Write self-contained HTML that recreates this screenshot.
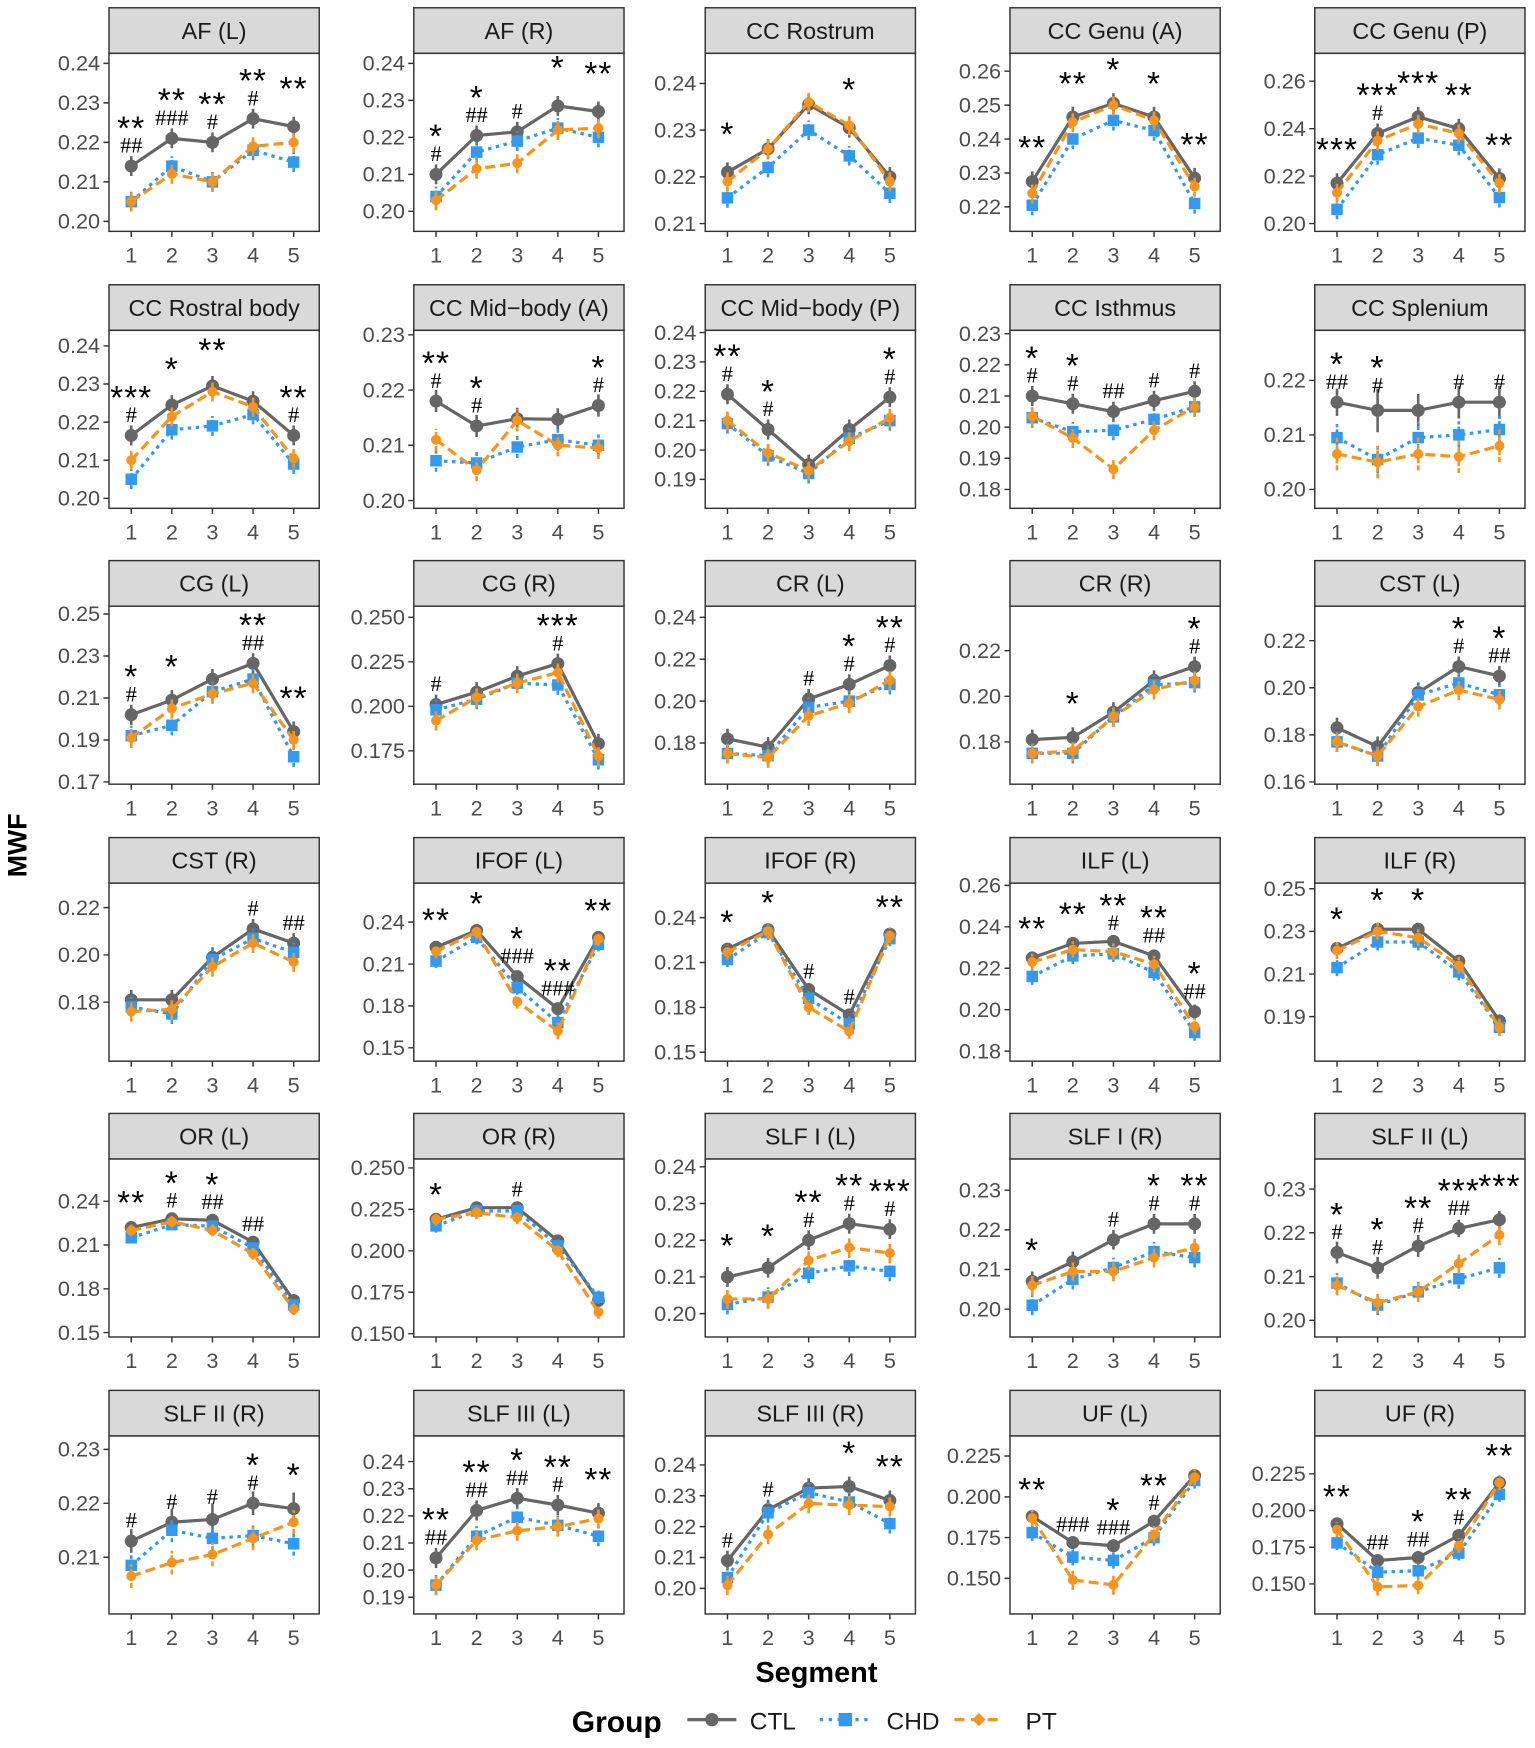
<!DOCTYPE html>
<html><head><meta charset="utf-8"><style>
html,body{margin:0;padding:0;background:#fff}
svg{display:block}
text{font-family:"Liberation Sans",Arial,sans-serif}
.st{fill:#d9d9d9;stroke:#333;stroke-width:1.3}
.pn{fill:#fff;stroke:#333;stroke-width:1.3}
.sx{font-size:21px;text-anchor:middle;fill:#1a1a1a}
.tk{stroke:#333;stroke-width:1.3;fill:none}
.yl{font-size:19.5px;text-anchor:end;fill:#4d4d4d}
.xl{font-size:19.5px;text-anchor:middle;fill:#4d4d4d}
.l1,.l2,.l3,.e1,.e2,.e3,.p1,.p2,.p3{fill:none;vector-effect:non-scaling-stroke}
.l1{stroke:#666;stroke-width:3.2}
.l2{stroke:#3399ee;stroke-width:3.2;stroke-dasharray:3.5 4.5}
.l3{stroke:#f7941d;stroke-width:3.2;stroke-dasharray:10 5}
.e1{stroke:#666;stroke-width:2.6}
.e2{stroke:#3399ee;stroke-width:2.6;stroke-dasharray:4 2}
.e3{stroke:#f7941d;stroke-width:2.6;stroke-dasharray:5 2}
.p1{stroke:#666;stroke-width:13;stroke-linecap:round}
.p2{stroke:#3399ee;stroke-width:11.5;stroke-linecap:square}
.p3{stroke:#f7941d;stroke-width:10;stroke-linecap:round}
.s{font-size:30px;text-anchor:middle;fill:#000;letter-spacing:1px}
.h{font-size:20px;text-anchor:middle;fill:#000;font-family:"Liberation Serif",serif}
</style></head><body>
<svg width="1535" height="1748" viewBox="0 0 1380 1571.5" preserveAspectRatio="none" xmlns="http://www.w3.org/2000/svg">

<!-- P1 AF (L) -->
<g transform="translate(98 0)">
<rect class="st" x="0" y="7" width="189" height="41"/><text class="sx" x="94.5" y="35">AF (L)</text>
<rect class="pn" x="0" y="48" width="189" height="160"/>
<path class="tk" d="M-5 57h5M-5 92.5h5M-5 128h5M-5 163.5h5M-5 199h5M20 208v5M56.5 208v5M93 208v5M129.5 208v5M166 208v5"/>
<text class="yl" x="-8" y="63.5">0.24</text><text class="yl" x="-8" y="99">0.23</text><text class="yl" x="-8" y="134.5">0.22</text><text class="yl" x="-8" y="170">0.21</text><text class="yl" x="-8" y="205.5">0.20</text>
<text class="xl" y="236"><tspan x="20">1</tspan><tspan x="56.5">2</tspan><tspan x="93">3</tspan><tspan x="129.5">4</tspan><tspan x="166">5</tspan></text>
<g transform="translate(0 199) scale(1 -3.55) translate(0 -200)">
<path class="l1" d="M20 214L56.5 221L93 220L129.5 226L166 224"/>
<path class="e1" d="M20 214m0-2.5v5M56.5 221m0-2.5v5M93 220m0-2.5v5M129.5 226m0-2.5v5M166 224m0-2.5v5"/>
<path class="p1" d="M20 214h0M56.5 221h0M93 220h0M129.5 226h0M166 224h0"/>
<path class="l2" d="M20 205L56.5 214L93 210L129.5 218L166 215"/>
<path class="e2" d="M20 205m0-2.5v5M56.5 214m0-2.5v5M93 210m0-2.5v5M129.5 218m0-2.5v5M166 215m0-2.5v5"/>
<path class="p2" d="M20 205h0M56.5 214h0M93 210h0M129.5 218h0M166 215h0"/>
<path class="l3" d="M20 205L56.5 212L93 210L129.5 219L166 220"/>
<path class="e3" d="M20 205m0-2.5v5M56.5 212m0-2.5v5M93 210m0-2.5v5M129.5 219m0-2.5v5M166 220m0-2.5v5"/>
<path class="p3" d="M20 205h0M56.5 212h0M93 210h0M129.5 219h0M166 220h0"/>
<g transform="translate(20 214) scale(1 -.2817)"><text class="h" y="-12">##</text><text class="s" y="-24">**</text></g>
<g transform="translate(56.5 221) scale(1 -.2817)"><text class="h" y="-12">###</text><text class="s" y="-24">**</text></g>
<g transform="translate(93 220) scale(1 -.2817)"><text class="h" y="-12">#</text><text class="s" y="-24">**</text></g>
<g transform="translate(129.5 226) scale(1 -.2817)"><text class="h" y="-12">#</text><text class="s" y="-24">**</text></g>
<g transform="translate(166 224) scale(1 -.2817)"><text class="s" y="-24">**</text></g>
</g></g>

<!-- P2 AF (R) -->
<g transform="translate(372 0)">
<rect class="st" x="0" y="7" width="189" height="41"/><text class="sx" x="94.5" y="35">AF (R)</text>
<rect class="pn" x="0" y="48" width="189" height="160"/>
<path class="tk" d="M-5 57h5M-5 90.25h5M-5 123.5h5M-5 156.75h5M-5 190h5M20 208v5M56.5 208v5M93 208v5M129.5 208v5M166 208v5"/>
<text class="yl" x="-8" y="63.5">0.24</text><text class="yl" x="-8" y="96.75">0.23</text><text class="yl" x="-8" y="130">0.22</text><text class="yl" x="-8" y="163.25">0.21</text><text class="yl" x="-8" y="196.5">0.20</text>
<text class="xl" y="236"><tspan x="20">1</tspan><tspan x="56.5">2</tspan><tspan x="93">3</tspan><tspan x="129.5">4</tspan><tspan x="166">5</tspan></text>
<g transform="translate(0 190) scale(1 -3.325) translate(0 -200)">
<path class="l1" d="M20 210L56.5 220.5L93 221.5L129.5 228.5L166 227"/>
<path class="e1" d="M20 210m0-2.7v5.4M56.5 220.5m0-2.7v5.4M93 221.5m0-2.7v5.4M129.5 228.5m0-2.7v5.4M166 227m0-2.7v5.4"/>
<path class="p1" d="M20 210h0M56.5 220.5h0M93 221.5h0M129.5 228.5h0M166 227h0"/>
<path class="l2" d="M20 204L56.5 216L93 219L129.5 222.5L166 220"/>
<path class="e2" d="M20 204m0-2.7v5.4M56.5 216m0-2.7v5.4M93 219m0-2.7v5.4M129.5 222.5m0-2.7v5.4M166 220m0-2.7v5.4"/>
<path class="p2" d="M20 204h0M56.5 216h0M93 219h0M129.5 222.5h0M166 220h0"/>
<path class="l3" d="M20 203L56.5 211.5L93 213L129.5 222L166 222.5"/>
<path class="e3" d="M20 203m0-2.7v5.4M56.5 211.5m0-2.7v5.4M93 213m0-2.7v5.4M129.5 222m0-2.7v5.4M166 222.5m0-2.7v5.4"/>
<path class="p3" d="M20 203h0M56.5 211.5h0M93 213h0M129.5 222h0M166 222.5h0"/>
<g transform="translate(20 210) scale(1 -.3008)"><text class="h" y="-12">#</text><text class="s" y="-24">*</text></g>
<g transform="translate(56.5 220.5) scale(1 -.3008)"><text class="h" y="-12">##</text><text class="s" y="-24">*</text></g>
<g transform="translate(93 221.5) scale(1 -.3008)"><text class="h" y="-12">#</text></g>
<g transform="translate(129.5 228.5) scale(1 -.3008)"><text class="s" y="-24">*</text></g>
<g transform="translate(166 227) scale(1 -.3008)"><text class="s" y="-24">**</text></g>
</g></g>

<!-- P3 CC Rostrum -->
<g transform="translate(634 0)">
<rect class="st" x="0" y="7" width="189" height="41"/><text class="sx" x="94.5" y="35">CC Rostrum</text>
<rect class="pn" x="0" y="48" width="189" height="160"/>
<path class="tk" d="M-5 75h5M-5 117h5M-5 159h5M-5 201h5M20 208v5M56.5 208v5M93 208v5M129.5 208v5M166 208v5"/>
<text class="yl" x="-8" y="81.5">0.24</text><text class="yl" x="-8" y="123.5">0.23</text><text class="yl" x="-8" y="165.5">0.22</text><text class="yl" x="-8" y="207.5">0.21</text>
<text class="xl" y="236"><tspan x="20">1</tspan><tspan x="56.5">2</tspan><tspan x="93">3</tspan><tspan x="129.5">4</tspan><tspan x="166">5</tspan></text>
<g transform="translate(0 201) scale(1 -4.2) translate(0 -210)">
<path class="l1" d="M20 221L56.5 226L93 235.5L129.5 230.5L166 220"/>
<path class="e1" d="M20 221m0-2.1v4.2M56.5 226m0-2.1v4.2M93 235.5m0-2.1v4.2M129.5 230.5m0-2.1v4.2M166 220m0-2.1v4.2"/>
<path class="p1" d="M20 221h0M56.5 226h0M93 235.5h0M129.5 230.5h0M166 220h0"/>
<path class="l2" d="M20 215.5L56.5 222L93 230L129.5 224.5L166 216.5"/>
<path class="e2" d="M20 215.5m0-2.1v4.2M56.5 222m0-2.1v4.2M93 230m0-2.1v4.2M129.5 224.5m0-2.1v4.2M166 216.5m0-2.1v4.2"/>
<path class="p2" d="M20 215.5h0M56.5 222h0M93 230h0M129.5 224.5h0M166 216.5h0"/>
<path class="l3" d="M20 219L56.5 226L93 236L129.5 231L166 219"/>
<path class="e3" d="M20 219m0-2.1v4.2M56.5 226m0-2.1v4.2M93 236m0-2.1v4.2M129.5 231m0-2.1v4.2M166 219m0-2.1v4.2"/>
<path class="p3" d="M20 219h0M56.5 226h0M93 236h0M129.5 231h0M166 219h0"/>
<g transform="translate(20 221) scale(1 -.2381)"><text class="s" y="-24">*</text></g>
<g transform="translate(129.5 230.5) scale(1 -.2381)"><text class="s" y="-24">*</text></g>
</g></g>

<!-- P4 CC Genu (A) -->
<g transform="translate(908 0)">
<rect class="st" x="0" y="7" width="189" height="41"/><text class="sx" x="94.5" y="35">CC Genu (A)</text>
<rect class="pn" x="0" y="48" width="189" height="160"/>
<path class="tk" d="M-5 64h5M-5 94.5h5M-5 125h5M-5 155.5h5M-5 186h5M20 208v5M56.5 208v5M93 208v5M129.5 208v5M166 208v5"/>
<text class="yl" x="-8" y="70.5">0.26</text><text class="yl" x="-8" y="101">0.25</text><text class="yl" x="-8" y="131.5">0.24</text><text class="yl" x="-8" y="162">0.23</text><text class="yl" x="-8" y="192.5">0.22</text>
<text class="xl" y="236"><tspan x="20">1</tspan><tspan x="56.5">2</tspan><tspan x="93">3</tspan><tspan x="129.5">4</tspan><tspan x="166">5</tspan></text>
<g transform="translate(0 186) scale(1 -3.05) translate(0 -220)">
<path class="l1" d="M20 227.5L56.5 246.5L93 250.5L129.5 246.5L166 228.5"/>
<path class="e1" d="M20 227.5m0-3v6M56.5 246.5m0-3v6M93 250.5m0-3v6M129.5 246.5m0-3v6M166 228.5m0-3v6"/>
<path class="p1" d="M20 227.5h0M56.5 246.5h0M93 250.5h0M129.5 246.5h0M166 228.5h0"/>
<path class="l2" d="M20 220.5L56.5 240L93 245.5L129.5 242.5L166 221"/>
<path class="e2" d="M20 220.5m0-3v6M56.5 240m0-3v6M93 245.5m0-3v6M129.5 242.5m0-3v6M166 221m0-3v6"/>
<path class="p2" d="M20 220.5h0M56.5 240h0M93 245.5h0M129.5 242.5h0M166 221h0"/>
<path class="l3" d="M20 224L56.5 245L93 250L129.5 245.5L166 226"/>
<path class="e3" d="M20 224m0-3v6M56.5 245m0-3v6M93 250m0-3v6M129.5 245.5m0-3v6M166 226m0-3v6"/>
<path class="p3" d="M20 224h0M56.5 245h0M93 250h0M129.5 245.5h0M166 226h0"/>
<g transform="translate(20 227.5) scale(1 -.3279)"><text class="s" y="-20">**</text></g>
<g transform="translate(56.5 246.5) scale(1 -.3279)"><text class="s" y="-20">**</text></g>
<g transform="translate(93 250.5) scale(1 -.3279)"><text class="s" y="-20">*</text></g>
<g transform="translate(129.5 246.5) scale(1 -.3279)"><text class="s" y="-20">*</text></g>
<g transform="translate(166 228.5) scale(1 -.3279)"><text class="s" y="-20">**</text></g>
</g></g>

<!-- P5 CC Genu (P) -->
<g transform="translate(1182 0)">
<rect class="st" x="0" y="7" width="189" height="41"/><text class="sx" x="94.5" y="35">CC Genu (P)</text>
<rect class="pn" x="0" y="48" width="189" height="160"/>
<path class="tk" d="M-5 73h5M-5 115.7h5M-5 158.3h5M-5 201h5M20 208v5M56.5 208v5M93 208v5M129.5 208v5M166 208v5"/>
<text class="yl" x="-8" y="79.5">0.26</text><text class="yl" x="-8" y="122.2">0.24</text><text class="yl" x="-8" y="164.8">0.22</text><text class="yl" x="-8" y="207.5">0.20</text>
<text class="xl" y="236"><tspan x="20">1</tspan><tspan x="56.5">2</tspan><tspan x="93">3</tspan><tspan x="129.5">4</tspan><tspan x="166">5</tspan></text>
<g transform="translate(0 201) scale(1 -2.133) translate(0 -200)">
<path class="l1" d="M20 217L56.5 238L93 245L129.5 240L166 219"/>
<path class="e1" d="M20 217m0-4.2v8.4M56.5 238m0-4.2v8.4M93 245m0-4.2v8.4M129.5 240m0-4.2v8.4M166 219m0-4.2v8.4"/>
<path class="p1" d="M20 217h0M56.5 238h0M93 245h0M129.5 240h0M166 219h0"/>
<path class="l2" d="M20 206L56.5 229L93 236L129.5 233L166 211"/>
<path class="e2" d="M20 206m0-4.2v8.4M56.5 229m0-4.2v8.4M93 236m0-4.2v8.4M129.5 233m0-4.2v8.4M166 211m0-4.2v8.4"/>
<path class="p2" d="M20 206h0M56.5 229h0M93 236h0M129.5 233h0M166 211h0"/>
<path class="l3" d="M20 213L56.5 235L93 242L129.5 238L166 217"/>
<path class="e3" d="M20 213m0-4.2v8.4M56.5 235m0-4.2v8.4M93 242m0-4.2v8.4M129.5 238m0-4.2v8.4M166 217m0-4.2v8.4"/>
<path class="p3" d="M20 213h0M56.5 235h0M93 242h0M129.5 238h0M166 217h0"/>
<g transform="translate(20 217) scale(1 -.4688)"><text class="s" y="-20">***</text></g>
<g transform="translate(56.5 238) scale(1 -.4688)"><text class="h" y="-12">#</text><text class="s" y="-24">***</text></g>
<g transform="translate(93 245) scale(1 -.4688)"><text class="s" y="-20">***</text></g>
<g transform="translate(129.5 240) scale(1 -.4688)"><text class="s" y="-20">**</text></g>
<g transform="translate(166 219) scale(1 -.4688)"><text class="s" y="-20">**</text></g>
</g></g>

<!-- P6 CC Rostral body -->
<g transform="translate(98 0)">
<rect class="st" x="0" y="256" width="189" height="41"/><text class="sx" x="94.5" y="284">CC Rostral body</text>
<rect class="pn" x="0" y="297" width="189" height="160"/>
<path class="tk" d="M-5 311h5M-5 345.25h5M-5 379.5h5M-5 413.75h5M-5 448h5M20 457v5M56.5 457v5M93 457v5M129.5 457v5M166 457v5"/>
<text class="yl" x="-8" y="317.5">0.24</text><text class="yl" x="-8" y="351.75">0.23</text><text class="yl" x="-8" y="386">0.22</text><text class="yl" x="-8" y="420.25">0.21</text><text class="yl" x="-8" y="454.5">0.20</text>
<text class="xl" y="485"><tspan x="20">1</tspan><tspan x="56.5">2</tspan><tspan x="93">3</tspan><tspan x="129.5">4</tspan><tspan x="166">5</tspan></text>
<g transform="translate(0 448) scale(1 -3.425) translate(0 -200)">
<path class="l1" d="M20 216.5L56.5 224.5L93 229.5L129.5 225.5L166 216.5"/>
<path class="e1" d="M20 216.5m0-2.6v5.2M56.5 224.5m0-2.6v5.2M93 229.5m0-2.6v5.2M129.5 225.5m0-2.6v5.2M166 216.5m0-2.6v5.2"/>
<path class="p1" d="M20 216.5h0M56.5 224.5h0M93 229.5h0M129.5 225.5h0M166 216.5h0"/>
<path class="l2" d="M20 205L56.5 218L93 219L129.5 222L166 209"/>
<path class="e2" d="M20 205m0-2.6v5.2M56.5 218m0-2.6v5.2M93 219m0-2.6v5.2M129.5 222m0-2.6v5.2M166 209m0-2.6v5.2"/>
<path class="p2" d="M20 205h0M56.5 218h0M93 219h0M129.5 222h0M166 209h0"/>
<path class="l3" d="M20 210L56.5 221.5L93 228L129.5 224L166 210.5"/>
<path class="e3" d="M20 210m0-2.6v5.2M56.5 221.5m0-2.6v5.2M93 228m0-2.6v5.2M129.5 224m0-2.6v5.2M166 210.5m0-2.6v5.2"/>
<path class="p3" d="M20 210h0M56.5 221.5h0M93 228h0M129.5 224h0M166 210.5h0"/>
<g transform="translate(20 216.5) scale(1 -.292)"><text class="h" y="-12">#</text><text class="s" y="-24">***</text></g>
<g transform="translate(56.5 224.5) scale(1 -.292)"><text class="s" y="-22">*</text></g>
<g transform="translate(93 229.5) scale(1 -.292)"><text class="s" y="-22">**</text></g>
<g transform="translate(166 216.5) scale(1 -.292)"><text class="h" y="-12">#</text><text class="s" y="-24">**</text></g>
</g></g>

<!-- P7 CC Mid-body (A) -->
<g transform="translate(372 0)">
<rect class="st" x="0" y="256" width="189" height="41"/><text class="sx" x="94.5" y="284">CC Mid−body (A)</text>
<rect class="pn" x="0" y="297" width="189" height="160"/>
<path class="tk" d="M-5 301h5M-5 350.7h5M-5 400.3h5M-5 450h5M20 457v5M56.5 457v5M93 457v5M129.5 457v5M166 457v5"/>
<text class="yl" x="-8" y="307.5">0.23</text><text class="yl" x="-8" y="357.2">0.22</text><text class="yl" x="-8" y="406.8">0.21</text><text class="yl" x="-8" y="456.5">0.20</text>
<text class="xl" y="485"><tspan x="20">1</tspan><tspan x="56.5">2</tspan><tspan x="93">3</tspan><tspan x="129.5">4</tspan><tspan x="166">5</tspan></text>
<g transform="translate(0 450) scale(1 -4.967) translate(0 -200)">
<path class="l1" d="M20 218L56.5 213.5L93 214.8L129.5 214.7L166 217.2"/>
<path class="e1" d="M20 218m0-2v4M56.5 213.5m0-2v4M93 214.8m0-2v4M129.5 214.7m0-2v4M166 217.2m0-2v4"/>
<path class="p1" d="M20 218h0M56.5 213.5h0M93 214.8h0M129.5 214.7h0M166 217.2h0"/>
<path class="l2" d="M20 207.2L56.5 206.8L93 209.7L129.5 211L166 210"/>
<path class="e2" d="M20 207.2m0-2v4M56.5 206.8m0-2v4M93 209.7m0-2v4M129.5 211m0-2v4M166 210m0-2v4"/>
<path class="p2" d="M20 207.2h0M56.5 206.8h0M93 209.7h0M129.5 211h0M166 210h0"/>
<path class="l3" d="M20 211L56.5 205.5L93 214.5L129.5 210L166 209.5"/>
<path class="e3" d="M20 211m0-2v4M56.5 205.5m0-2v4M93 214.5m0-2v4M129.5 210m0-2v4M166 209.5m0-2v4"/>
<path class="p3" d="M20 211h0M56.5 205.5h0M93 214.5h0M129.5 210h0M166 209.5h0"/>
<g transform="translate(20 218) scale(1 -.2013)"><text class="h" y="-12">#</text><text class="s" y="-24">**</text></g>
<g transform="translate(56.5 213.5) scale(1 -.2013)"><text class="h" y="-12">#</text><text class="s" y="-24">*</text></g>
<g transform="translate(166 217.2) scale(1 -.2013)"><text class="h" y="-12">#</text><text class="s" y="-24">*</text></g>
</g></g>

<!-- P8 CC Mid-body (P) -->
<g transform="translate(634 0)">
<rect class="st" x="0" y="256" width="189" height="41"/><text class="sx" x="94.5" y="284">CC Mid−body (P)</text>
<rect class="pn" x="0" y="297" width="189" height="160"/>
<path class="tk" d="M-5 299h5M-5 325.4h5M-5 351.8h5M-5 378.2h5M-5 404.6h5M-5 431h5M20 457v5M56.5 457v5M93 457v5M129.5 457v5M166 457v5"/>
<text class="yl" x="-8" y="305.5">0.24</text><text class="yl" x="-8" y="331.9">0.23</text><text class="yl" x="-8" y="358.3">0.22</text><text class="yl" x="-8" y="384.7">0.21</text><text class="yl" x="-8" y="411.1">0.20</text><text class="yl" x="-8" y="437.5">0.19</text>
<text class="xl" y="485"><tspan x="20">1</tspan><tspan x="56.5">2</tspan><tspan x="93">3</tspan><tspan x="129.5">4</tspan><tspan x="166">5</tspan></text>
<g transform="translate(0 431) scale(1 -2.64) translate(0 -190)">
<path class="l1" d="M20 219L56.5 207L93 195L129.5 207L166 218"/>
<path class="e1" d="M20 219m0-3.4v6.8M56.5 207m0-3.4v6.8M93 195m0-3.4v6.8M129.5 207m0-3.4v6.8M166 218m0-3.4v6.8"/>
<path class="p1" d="M20 219h0M56.5 207h0M93 195h0M129.5 207h0M166 218h0"/>
<path class="l2" d="M20 209L56.5 198L93 192L129.5 204L166 210"/>
<path class="e2" d="M20 209m0-3.4v6.8M56.5 198m0-3.4v6.8M93 192m0-3.4v6.8M129.5 204m0-3.4v6.8M166 210m0-3.4v6.8"/>
<path class="p2" d="M20 209h0M56.5 198h0M93 192h0M129.5 204h0M166 210h0"/>
<path class="l3" d="M20 210L56.5 199L93 193L129.5 203L166 211"/>
<path class="e3" d="M20 210m0-3.4v6.8M56.5 199m0-3.4v6.8M93 193m0-3.4v6.8M129.5 203m0-3.4v6.8M166 211m0-3.4v6.8"/>
<path class="p3" d="M20 210h0M56.5 199h0M93 193h0M129.5 203h0M166 211h0"/>
<g transform="translate(20 219) scale(1 -.3788)"><text class="h" y="-12">#</text><text class="s" y="-24">**</text></g>
<g transform="translate(56.5 207) scale(1 -.3788)"><text class="h" y="-12">#</text><text class="s" y="-24">*</text></g>
<g transform="translate(166 218) scale(1 -.3788)"><text class="h" y="-12">#</text><text class="s" y="-24">*</text></g>
</g></g>

<!-- P9 CC Isthmus -->
<g transform="translate(908 0)">
<rect class="st" x="0" y="256" width="189" height="41"/><text class="sx" x="94.5" y="284">CC Isthmus</text>
<rect class="pn" x="0" y="297" width="189" height="160"/>
<path class="tk" d="M-5 300h5M-5 328h5M-5 356h5M-5 384h5M-5 412h5M-5 440h5M20 457v5M56.5 457v5M93 457v5M129.5 457v5M166 457v5"/>
<text class="yl" x="-8" y="306.5">0.23</text><text class="yl" x="-8" y="334.5">0.22</text><text class="yl" x="-8" y="362.5">0.21</text><text class="yl" x="-8" y="390.5">0.20</text><text class="yl" x="-8" y="418.5">0.19</text><text class="yl" x="-8" y="446.5">0.18</text>
<text class="xl" y="485"><tspan x="20">1</tspan><tspan x="56.5">2</tspan><tspan x="93">3</tspan><tspan x="129.5">4</tspan><tspan x="166">5</tspan></text>
<g transform="translate(0 440) scale(1 -2.8) translate(0 -180)">
<path class="l1" d="M20 210L56.5 207.5L93 205L129.5 208.5L166 211.5"/>
<path class="e1" d="M20 210m0-3.2v6.4M56.5 207.5m0-3.2v6.4M93 205m0-3.2v6.4M129.5 208.5m0-3.2v6.4M166 211.5m0-3.2v6.4"/>
<path class="p1" d="M20 210h0M56.5 207.5h0M93 205h0M129.5 208.5h0M166 211.5h0"/>
<path class="l2" d="M20 203L56.5 198.5L93 199L129.5 202.5L166 206.5"/>
<path class="e2" d="M20 203m0-3.2v6.4M56.5 198.5m0-3.2v6.4M93 199m0-3.2v6.4M129.5 202.5m0-3.2v6.4M166 206.5m0-3.2v6.4"/>
<path class="p2" d="M20 203h0M56.5 198.5h0M93 199h0M129.5 202.5h0M166 206.5h0"/>
<path class="l3" d="M20 203.5L56.5 196.5L93 186.5L129.5 199L166 206.5"/>
<path class="e3" d="M20 203.5m0-3.2v6.4M56.5 196.5m0-3.2v6.4M93 186.5m0-3.2v6.4M129.5 199m0-3.2v6.4M166 206.5m0-3.2v6.4"/>
<path class="p3" d="M20 203.5h0M56.5 196.5h0M93 186.5h0M129.5 199h0M166 206.5h0"/>
<g transform="translate(20 210) scale(1 -.3571)"><text class="h" y="-12">#</text><text class="s" y="-24">*</text></g>
<g transform="translate(56.5 207.5) scale(1 -.3571)"><text class="h" y="-12">#</text><text class="s" y="-24">*</text></g>
<g transform="translate(93 205) scale(1 -.3571)"><text class="h" y="-12">##</text></g>
<g transform="translate(129.5 208.5) scale(1 -.3571)"><text class="h" y="-12">#</text></g>
<g transform="translate(166 211.5) scale(1 -.3571)"><text class="h" y="-12">#</text></g>
</g></g>

<!-- P10 CC Splenium -->
<g transform="translate(1182 0)">
<rect class="st" x="0" y="256" width="189" height="41"/><text class="sx" x="94.5" y="284">CC Splenium</text>
<rect class="pn" x="0" y="297" width="189" height="160"/>
<path class="tk" d="M-5 342h5M-5 391h5M-5 440h5M20 457v5M56.5 457v5M93 457v5M129.5 457v5M166 457v5"/>
<text class="yl" x="-8" y="348.5">0.22</text><text class="yl" x="-8" y="397.5">0.21</text><text class="yl" x="-8" y="446.5">0.20</text>
<text class="xl" y="485"><tspan x="20">1</tspan><tspan x="56.5">2</tspan><tspan x="93">3</tspan><tspan x="129.5">4</tspan><tspan x="166">5</tspan></text>
<g transform="translate(0 440) scale(1 -4.9) translate(0 -200)">
<path class="l1" d="M20 216L56.5 214.5L93 214.5L129.5 216L166 216"/>
<path class="e1" d="M20 216m0-2.5v5M56.5 214.5m0-4v8M93 214.5m0-3v6M129.5 216m0-3v6M166 216m0-3v6"/>
<path class="p1" d="M20 216h0M56.5 214.5h0M93 214.5h0M129.5 216h0M166 216h0"/>
<path class="l2" d="M20 209.5L56.5 205.5L93 209.5L129.5 210L166 211"/>
<path class="e2" d="M20 209.5m0-2.5v5M56.5 205.5m0-2.5v5M93 209.5m0-3v6M129.5 210m0-2.5v5M166 211m0-2.5v5"/>
<path class="p2" d="M20 209.5h0M56.5 205.5h0M93 209.5h0M129.5 210h0M166 211h0"/>
<path class="l3" d="M20 206.5L56.5 205L93 206.5L129.5 206L166 208"/>
<path class="e3" d="M20 206.5m0-3v6M56.5 205m0-3v6M93 206.5m0-3v6M129.5 206m0-3v6M166 208m0-3v6"/>
<path class="p3" d="M20 206.5h0M56.5 205h0M93 206.5h0M129.5 206h0M166 208h0"/>
<g transform="translate(20 216) scale(1 -.2041)"><text class="h" y="-12">##</text><text class="s" y="-24">*</text></g>
<g transform="translate(56.5 214.5) scale(1 -.2041)"><text class="h" y="-16">#</text><text class="s" y="-28">*</text></g>
<g transform="translate(129.5 216) scale(1 -.2041)"><text class="h" y="-12">#</text></g>
<g transform="translate(166 216) scale(1 -.2041)"><text class="h" y="-12">#</text></g>
</g></g>

<!-- P11 CG (L) -->
<g transform="translate(98 0)">
<rect class="st" x="0" y="504" width="189" height="41"/><text class="sx" x="94.5" y="532">CG (L)</text>
<rect class="pn" x="0" y="545" width="189" height="160"/>
<path class="tk" d="M-5 552h5M-5 589.75h5M-5 627.5h5M-5 665.25h5M-5 703h5M20 705v5M56.5 705v5M93 705v5M129.5 705v5M166 705v5"/>
<text class="yl" x="-8" y="558.5">0.25</text><text class="yl" x="-8" y="596.25">0.23</text><text class="yl" x="-8" y="634">0.21</text><text class="yl" x="-8" y="671.75">0.19</text><text class="yl" x="-8" y="709.5">0.17</text>
<text class="xl" y="733"><tspan x="20">1</tspan><tspan x="56.5">2</tspan><tspan x="93">3</tspan><tspan x="129.5">4</tspan><tspan x="166">5</tspan></text>
<g transform="translate(0 703) scale(1 -1.8875) translate(0 -170)">
<path class="l1" d="M20 202L56.5 209L93 219L129.5 226.5L166 194"/>
<path class="e1" d="M20 202m0-4.8v9.6M56.5 209m0-4.8v9.6M93 219m0-4.8v9.6M129.5 226.5m0-4.8v9.6M166 194m0-4.8v9.6"/>
<path class="p1" d="M20 202h0M56.5 209h0M93 219h0M129.5 226.5h0M166 194h0"/>
<path class="l2" d="M20 192L56.5 197L93 213L129.5 219L166 182"/>
<path class="e2" d="M20 192m0-4.8v9.6M56.5 197m0-4.8v9.6M93 213m0-4.8v9.6M129.5 219m0-4.8v9.6M166 182m0-4.8v9.6"/>
<path class="p2" d="M20 192h0M56.5 197h0M93 213h0M129.5 219h0M166 182h0"/>
<path class="l3" d="M20 191L56.5 205L93 212L129.5 217L166 190"/>
<path class="e3" d="M20 191m0-4.8v9.6M56.5 205m0-4.8v9.6M93 212m0-4.8v9.6M129.5 217m0-4.8v9.6M166 190m0-4.8v9.6"/>
<path class="p3" d="M20 191h0M56.5 205h0M93 212h0M129.5 217h0M166 190h0"/>
<g transform="translate(20 202) scale(1 -.5298)"><text class="h" y="-12">#</text><text class="s" y="-24">*</text></g>
<g transform="translate(56.5 209) scale(1 -.5298)"><text class="s" y="-20">*</text></g>
<g transform="translate(129.5 226.5) scale(1 -.5298)"><text class="h" y="-12">##</text><text class="s" y="-24">**</text></g>
<g transform="translate(166 194) scale(1 -.5298)"><text class="s" y="-20">**</text></g>
</g></g>

<!-- P12 CG (R) -->
<g transform="translate(372 0)">
<rect class="st" x="0" y="504" width="189" height="41"/><text class="sx" x="94.5" y="532">CG (R)</text>
<rect class="pn" x="0" y="545" width="189" height="160"/>
<path class="tk" d="M-5 555h5M-5 595h5M-5 635h5M-5 675h5M20 705v5M56.5 705v5M93 705v5M129.5 705v5M166 705v5"/>
<text class="yl" x="-8" y="561.5">0.250</text><text class="yl" x="-8" y="601.5">0.225</text><text class="yl" x="-8" y="641.5">0.200</text><text class="yl" x="-8" y="681.5">0.175</text>
<text class="xl" y="733"><tspan x="20">1</tspan><tspan x="56.5">2</tspan><tspan x="93">3</tspan><tspan x="129.5">4</tspan><tspan x="166">5</tspan></text>
<g transform="translate(0 675) scale(1 -1.6) translate(0 -175)">
<path class="l1" d="M20 201L56.5 208L93 217L129.5 224L166 179"/>
<path class="e1" d="M20 201m0-5.6v11.2M56.5 208m0-5.6v11.2M93 217m0-5.6v11.2M129.5 224m0-5.6v11.2M166 179m0-5.6v11.2"/>
<path class="p1" d="M20 201h0M56.5 208h0M93 217h0M129.5 224h0M166 179h0"/>
<path class="l2" d="M20 198L56.5 204L93 213L129.5 212L166 170"/>
<path class="e2" d="M20 198m0-5.6v11.2M56.5 204m0-5.6v11.2M93 213m0-5.6v11.2M129.5 212m0-5.6v11.2M166 170m0-5.6v11.2"/>
<path class="p2" d="M20 198h0M56.5 204h0M93 213h0M129.5 212h0M166 170h0"/>
<path class="l3" d="M20 192L56.5 205L93 213L129.5 219L166 172"/>
<path class="e3" d="M20 192m0-5.6v11.2M56.5 205m0-5.6v11.2M93 213m0-5.6v11.2M129.5 219m0-5.6v11.2M166 172m0-5.6v11.2"/>
<path class="p3" d="M20 192h0M56.5 205h0M93 213h0M129.5 219h0M166 172h0"/>
<g transform="translate(20 201) scale(1 -.625)"><text class="h" y="-12">#</text></g>
<g transform="translate(129.5 224) scale(1 -.625)"><text class="h" y="-12">#</text><text class="s" y="-24">***</text></g>
</g></g>

<!-- P13 CR (L) -->
<g transform="translate(634 0)">
<rect class="st" x="0" y="504" width="189" height="41"/><text class="sx" x="94.5" y="532">CR (L)</text>
<rect class="pn" x="0" y="545" width="189" height="160"/>
<path class="tk" d="M-5 555h5M-5 592.7h5M-5 630.3h5M-5 668h5M20 705v5M56.5 705v5M93 705v5M129.5 705v5M166 705v5"/>
<text class="yl" x="-8" y="561.5">0.24</text><text class="yl" x="-8" y="599.2">0.22</text><text class="yl" x="-8" y="636.8">0.20</text><text class="yl" x="-8" y="674.5">0.18</text>
<text class="xl" y="733"><tspan x="20">1</tspan><tspan x="56.5">2</tspan><tspan x="93">3</tspan><tspan x="129.5">4</tspan><tspan x="166">5</tspan></text>
<g transform="translate(0 668) scale(1 -1.883) translate(0 -180)">
<path class="l1" d="M20 182L56.5 178L93 201L129.5 208L166 217"/>
<path class="e1" d="M20 182m0-4.8v9.6M56.5 178m0-4.8v9.6M93 201m0-4.8v9.6M129.5 208m0-4.8v9.6M166 217m0-4.8v9.6"/>
<path class="p1" d="M20 182h0M56.5 178h0M93 201h0M129.5 208h0M166 217h0"/>
<path class="l2" d="M20 175L56.5 174L93 197L129.5 200L166 208"/>
<path class="e2" d="M20 175m0-4.8v9.6M56.5 174m0-4.8v9.6M93 197m0-4.8v9.6M129.5 200m0-4.8v9.6M166 208m0-4.8v9.6"/>
<path class="p2" d="M20 175h0M56.5 174h0M93 197h0M129.5 200h0M166 208h0"/>
<path class="l3" d="M20 175L56.5 173L93 193L129.5 199L166 210"/>
<path class="e3" d="M20 175m0-4.8v9.6M56.5 173m0-4.8v9.6M93 193m0-4.8v9.6M129.5 199m0-4.8v9.6M166 210m0-4.8v9.6"/>
<path class="p3" d="M20 175h0M56.5 173h0M93 193h0M129.5 199h0M166 210h0"/>
<g transform="translate(93 201) scale(1 -.531)"><text class="h" y="-12">#</text></g>
<g transform="translate(129.5 208) scale(1 -.531)"><text class="h" y="-12">#</text><text class="s" y="-24">*</text></g>
<g transform="translate(166 217) scale(1 -.531)"><text class="h" y="-12">#</text><text class="s" y="-24">**</text></g>
</g></g>

<!-- P14 CR (R) -->
<g transform="translate(908 0)">
<rect class="st" x="0" y="504" width="189" height="41"/><text class="sx" x="94.5" y="532">CR (R)</text>
<rect class="pn" x="0" y="545" width="189" height="160"/>
<path class="tk" d="M-5 585h5M-5 626h5M-5 667h5M20 705v5M56.5 705v5M93 705v5M129.5 705v5M166 705v5"/>
<text class="yl" x="-8" y="591.5">0.22</text><text class="yl" x="-8" y="632.5">0.20</text><text class="yl" x="-8" y="673.5">0.18</text>
<text class="xl" y="733"><tspan x="20">1</tspan><tspan x="56.5">2</tspan><tspan x="93">3</tspan><tspan x="129.5">4</tspan><tspan x="166">5</tspan></text>
<g transform="translate(0 667) scale(1 -2.05) translate(0 -180)">
<path class="l1" d="M20 181L56.5 182L93 193L129.5 207L166 213"/>
<path class="e1" d="M20 181m0-4.4v8.8M56.5 182m0-4.4v8.8M93 193m0-4.4v8.8M129.5 207m0-4.4v8.8M166 213m0-4.4v8.8"/>
<path class="p1" d="M20 181h0M56.5 182h0M93 193h0M129.5 207h0M166 213h0"/>
<path class="l2" d="M20 175L56.5 175L93 191L129.5 205L166 206"/>
<path class="e2" d="M20 175m0-4.4v8.8M56.5 175m0-4.4v8.8M93 191m0-4.4v8.8M129.5 205m0-4.4v8.8M166 206m0-4.4v8.8"/>
<path class="p2" d="M20 175h0M56.5 175h0M93 191h0M129.5 205h0M166 206h0"/>
<path class="l3" d="M20 175L56.5 176L93 191L129.5 203L166 207"/>
<path class="e3" d="M20 175m0-4.4v8.8M56.5 176m0-4.4v8.8M93 191m0-4.4v8.8M129.5 203m0-4.4v8.8M166 207m0-4.4v8.8"/>
<path class="p3" d="M20 175h0M56.5 176h0M93 191h0M129.5 203h0M166 207h0"/>
<g transform="translate(56.5 182) scale(1 -.4878)"><text class="s" y="-20">*</text></g>
<g transform="translate(166 213) scale(1 -.4878)"><text class="h" y="-12">#</text><text class="s" y="-24">*</text></g>
</g></g>

<!-- P15 CST (L) -->
<g transform="translate(1182 0)">
<rect class="st" x="0" y="504" width="189" height="41"/><text class="sx" x="94.5" y="532">CST (L)</text>
<rect class="pn" x="0" y="545" width="189" height="160"/>
<path class="tk" d="M-5 576h5M-5 618.3h5M-5 660.7h5M-5 703h5M20 705v5M56.5 705v5M93 705v5M129.5 705v5M166 705v5"/>
<text class="yl" x="-8" y="582.5">0.22</text><text class="yl" x="-8" y="624.8">0.20</text><text class="yl" x="-8" y="667.2">0.18</text><text class="yl" x="-8" y="709.5">0.16</text>
<text class="xl" y="733"><tspan x="20">1</tspan><tspan x="56.5">2</tspan><tspan x="93">3</tspan><tspan x="129.5">4</tspan><tspan x="166">5</tspan></text>
<g transform="translate(0 703) scale(1 -2.117) translate(0 -160)">
<path class="l1" d="M20 183L56.5 175L93 198L129.5 209L166 205"/>
<path class="e1" d="M20 183m0-4.3v8.6M56.5 175m0-4.3v8.6M93 198m0-4.3v8.6M129.5 209m0-4.3v8.6M166 205m0-4.3v8.6"/>
<path class="p1" d="M20 183h0M56.5 175h0M93 198h0M129.5 209h0M166 205h0"/>
<path class="l2" d="M20 177L56.5 171L93 197L129.5 202L166 197"/>
<path class="e2" d="M20 177m0-4.3v8.6M56.5 171m0-4.3v8.6M93 197m0-4.3v8.6M129.5 202m0-4.3v8.6M166 197m0-4.3v8.6"/>
<path class="p2" d="M20 177h0M56.5 171h0M93 197h0M129.5 202h0M166 197h0"/>
<path class="l3" d="M20 177L56.5 171L93 192L129.5 199L166 195"/>
<path class="e3" d="M20 177m0-4.3v8.6M56.5 171m0-4.3v8.6M93 192m0-4.3v8.6M129.5 199m0-4.3v8.6M166 195m0-4.3v8.6"/>
<path class="p3" d="M20 177h0M56.5 171h0M93 192h0M129.5 199h0M166 195h0"/>
<g transform="translate(129.5 209) scale(1 -.4724)"><text class="h" y="-12">#</text><text class="s" y="-24">*</text></g>
<g transform="translate(166 205) scale(1 -.4724)"><text class="h" y="-12">##</text><text class="s" y="-24">*</text></g>
</g></g>

<!-- P16 CST (R) -->
<g transform="translate(98 0)">
<rect class="st" x="0" y="753" width="189" height="41"/><text class="sx" x="94.5" y="781">CST (R)</text>
<rect class="pn" x="0" y="794" width="189" height="160"/>
<path class="tk" d="M-5 816h5M-5 858.5h5M-5 901h5M20 954v5M56.5 954v5M93 954v5M129.5 954v5M166 954v5"/>
<text class="yl" x="-8" y="822.5">0.22</text><text class="yl" x="-8" y="865">0.20</text><text class="yl" x="-8" y="907.5">0.18</text>
<text class="xl" y="982"><tspan x="20">1</tspan><tspan x="56.5">2</tspan><tspan x="93">3</tspan><tspan x="129.5">4</tspan><tspan x="166">5</tspan></text>
<g transform="translate(0 901) scale(1 -2.125) translate(0 -180)">
<path class="l1" d="M20 181L56.5 181L93 199L129.5 211L166 205"/>
<path class="e1" d="M20 181m0-4.2v8.4M56.5 181m0-4.2v8.4M93 199m0-4.2v8.4M129.5 211m0-4.2v8.4M166 205m0-4.2v8.4"/>
<path class="p1" d="M20 181h0M56.5 181h0M93 199h0M129.5 211h0M166 205h0"/>
<path class="l2" d="M20 178L56.5 175L93 198L129.5 207L166 201"/>
<path class="e2" d="M20 178m0-4.2v8.4M56.5 175m0-4.2v8.4M93 198m0-4.2v8.4M129.5 207m0-4.2v8.4M166 201m0-4.2v8.4"/>
<path class="p2" d="M20 178h0M56.5 175h0M93 198h0M129.5 207h0M166 201h0"/>
<path class="l3" d="M20 176L56.5 177L93 195L129.5 205L166 197"/>
<path class="e3" d="M20 176m0-4.2v8.4M56.5 177m0-4.2v8.4M93 195m0-4.2v8.4M129.5 205m0-4.2v8.4M166 197m0-4.2v8.4"/>
<path class="p3" d="M20 176h0M56.5 177h0M93 195h0M129.5 205h0M166 197h0"/>
<g transform="translate(129.5 211) scale(1 -.4706)"><text class="h" y="-12">#</text></g>
<g transform="translate(166 205) scale(1 -.4706)"><text class="h" y="-12">##</text></g>
</g></g>

<!-- P17 IFOF (L) -->
<g transform="translate(372 0)">
<rect class="st" x="0" y="753" width="189" height="41"/><text class="sx" x="94.5" y="781">IFOF (L)</text>
<rect class="pn" x="0" y="794" width="189" height="160"/>
<path class="tk" d="M-5 829h5M-5 866.7h5M-5 904.3h5M-5 942h5M20 954v5M56.5 954v5M93 954v5M129.5 954v5M166 954v5"/>
<text class="yl" x="-8" y="835.5">0.24</text><text class="yl" x="-8" y="873.2">0.21</text><text class="yl" x="-8" y="910.8">0.18</text><text class="yl" x="-8" y="948.5">0.15</text>
<text class="xl" y="982"><tspan x="20">1</tspan><tspan x="56.5">2</tspan><tspan x="93">3</tspan><tspan x="129.5">4</tspan><tspan x="166">5</tspan></text>
<g transform="translate(0 942) scale(1 -1.256) translate(0 -150)">
<path class="l1" d="M20 222L56.5 234L93 201L129.5 178L166 229"/>
<path class="e1" d="M20 222m0-4v8M56.5 234m0-4v8M93 201m0-4v8M129.5 178m0-4v8M166 229m0-4v8"/>
<path class="p1" d="M20 222h0M56.5 234h0M93 201h0M129.5 178h0M166 229h0"/>
<path class="l2" d="M20 212L56.5 229L93 193L129.5 168L166 224"/>
<path class="e2" d="M20 212m0-5v10M56.5 229m0-5v10M93 193m0-5v10M129.5 168m0-6v12M166 224m0-5v10"/>
<path class="p2" d="M20 212h0M56.5 229h0M93 193h0M129.5 168h0M166 224h0"/>
<path class="l3" d="M20 219L56.5 233L93 183L129.5 162L166 228"/>
<path class="e3" d="M20 219m0-5v10M56.5 233m0-5v10M93 183m0-5v10M129.5 162m0-6v12M166 228m0-5v10"/>
<path class="p3" d="M20 219h0M56.5 233h0M93 183h0M129.5 162h0M166 228h0"/>
<g transform="translate(20 222) scale(1 -.7962)"><text class="s" y="-14">**</text></g>
<g transform="translate(56.5 234) scale(1 -.7962)"><text class="s" y="-14">*</text></g>
<g transform="translate(93 201) scale(1 -.7962)"><text class="h" y="-12">###</text><text class="s" y="-24">*</text></g>
<g transform="translate(129.5 178) scale(1 -.7962)"><text class="h" y="-12">###</text><text class="s" y="-24">**</text></g>
<g transform="translate(166 229) scale(1 -.7962)"><text class="s" y="-14">**</text></g>
</g></g>

<!-- P18 IFOF (R) -->
<g transform="translate(634 0)">
<rect class="st" x="0" y="753" width="189" height="41"/><text class="sx" x="94.5" y="781">IFOF (R)</text>
<rect class="pn" x="0" y="794" width="189" height="160"/>
<path class="tk" d="M-5 825h5M-5 865.3h5M-5 905.7h5M-5 946h5M20 954v5M56.5 954v5M93 954v5M129.5 954v5M166 954v5"/>
<text class="yl" x="-8" y="831.5">0.24</text><text class="yl" x="-8" y="871.8">0.21</text><text class="yl" x="-8" y="912.2">0.18</text><text class="yl" x="-8" y="952.5">0.15</text>
<text class="xl" y="982"><tspan x="20">1</tspan><tspan x="56.5">2</tspan><tspan x="93">3</tspan><tspan x="129.5">4</tspan><tspan x="166">5</tspan></text>
<g transform="translate(0 946) scale(1 -1.344) translate(0 -150)">
<path class="l1" d="M20 219L56.5 232L93 192L129.5 175L166 229"/>
<path class="e1" d="M20 219m0-4v8M56.5 232m0-4v8M93 192m0-4v8M129.5 175m0-4v8M166 229m0-4v8"/>
<path class="p1" d="M20 219h0M56.5 232h0M93 192h0M129.5 175h0M166 229h0"/>
<path class="l2" d="M20 212L56.5 230L93 186L129.5 169L166 226"/>
<path class="e2" d="M20 212m0-5v10M56.5 230m0-5v10M93 186m0-5v10M129.5 169m0-5v10M166 226m0-5v10"/>
<path class="p2" d="M20 212h0M56.5 230h0M93 186h0M129.5 169h0M166 226h0"/>
<path class="l3" d="M20 217L56.5 231L93 180L129.5 164L166 228"/>
<path class="e3" d="M20 217m0-5v10M56.5 231m0-5v10M93 180m0-5v10M129.5 164m0-5v10M166 228m0-5v10"/>
<path class="p3" d="M20 217h0M56.5 231h0M93 180h0M129.5 164h0M166 228h0"/>
<g transform="translate(20 219) scale(1 -.744)"><text class="s" y="-14">*</text></g>
<g transform="translate(56.5 232) scale(1 -.744)"><text class="s" y="-14">*</text></g>
<g transform="translate(93 192) scale(1 -.744)"><text class="h" y="-10">#</text></g>
<g transform="translate(129.5 175) scale(1 -.744)"><text class="h" y="-10">#</text></g>
<g transform="translate(166 229) scale(1 -.744)"><text class="s" y="-14">**</text></g>
</g></g>

<!-- P19 ILF (L) -->
<g transform="translate(908 0)">
<rect class="st" x="0" y="753" width="189" height="41"/><text class="sx" x="94.5" y="781">ILF (L)</text>
<rect class="pn" x="0" y="794" width="189" height="160"/>
<path class="tk" d="M-5 796h5M-5 833.25h5M-5 870.5h5M-5 907.75h5M-5 945h5M20 954v5M56.5 954v5M93 954v5M129.5 954v5M166 954v5"/>
<text class="yl" x="-8" y="802.5">0.26</text><text class="yl" x="-8" y="839.75">0.24</text><text class="yl" x="-8" y="877">0.22</text><text class="yl" x="-8" y="914.25">0.20</text><text class="yl" x="-8" y="951.5">0.18</text>
<text class="xl" y="982"><tspan x="20">1</tspan><tspan x="56.5">2</tspan><tspan x="93">3</tspan><tspan x="129.5">4</tspan><tspan x="166">5</tspan></text>
<g transform="translate(0 945) scale(1 -1.8625) translate(0 -180)">
<path class="l1" d="M20 225L56.5 232L93 233L129.5 226L166 199"/>
<path class="e1" d="M20 225m0-3v6M56.5 232m0-3v6M93 233m0-3v6M129.5 226m0-3v6M166 199m0-3.5v7"/>
<path class="p1" d="M20 225h0M56.5 232h0M93 233h0M129.5 226h0M166 199h0"/>
<path class="l2" d="M20 216L56.5 226L93 227L129.5 218L166 189"/>
<path class="e2" d="M20 216m0-4v8M56.5 226m0-4v8M93 227m0-4v8M129.5 218m0-4v8M166 189m0-4v8"/>
<path class="p2" d="M20 216h0M56.5 226h0M93 227h0M129.5 218h0M166 189h0"/>
<path class="l3" d="M20 223L56.5 229L93 228L129.5 222L166 192"/>
<path class="e3" d="M20 223m0-4v8M56.5 229m0-4v8M93 228m0-4v8M129.5 222m0-4v8M166 192m0-4v8"/>
<path class="p3" d="M20 223h0M56.5 229h0M93 228h0M129.5 222h0M166 192h0"/>
<g transform="translate(20 225) scale(1 -.5369)"><text class="s" y="-16">**</text></g>
<g transform="translate(56.5 232) scale(1 -.5369)"><text class="s" y="-16">**</text></g>
<g transform="translate(93 233) scale(1 -.5369)"><text class="h" y="-10">#</text><text class="s" y="-22">**</text></g>
<g transform="translate(129.5 226) scale(1 -.5369)"><text class="h" y="-12">##</text><text class="s" y="-24">**</text></g>
<g transform="translate(166 199) scale(1 -.5369)"><text class="h" y="-12">##</text><text class="s" y="-24">*</text></g>
</g></g>

<!-- P20 ILF (R) -->
<g transform="translate(1182 0)">
<rect class="st" x="0" y="753" width="189" height="41"/><text class="sx" x="94.5" y="781">ILF (R)</text>
<rect class="pn" x="0" y="794" width="189" height="160"/>
<path class="tk" d="M-5 799h5M-5 837.3h5M-5 875.7h5M-5 914h5M20 954v5M56.5 954v5M93 954v5M129.5 954v5M166 954v5"/>
<text class="yl" x="-8" y="805.5">0.25</text><text class="yl" x="-8" y="843.8">0.23</text><text class="yl" x="-8" y="882.2">0.21</text><text class="yl" x="-8" y="920.5">0.19</text>
<text class="xl" y="982"><tspan x="20">1</tspan><tspan x="56.5">2</tspan><tspan x="93">3</tspan><tspan x="129.5">4</tspan><tspan x="166">5</tspan></text>
<g transform="translate(0 914) scale(1 -1.917) translate(0 -190)">
<path class="l1" d="M20 222L56.5 231L93 231L129.5 216L166 188"/>
<path class="e1" d="M20 222m0-3v6M56.5 231m0-3v6M93 231m0-3v6M129.5 216m0-3v6M166 188m0-3v6"/>
<path class="p1" d="M20 222h0M56.5 231h0M93 231h0M129.5 216h0M166 188h0"/>
<path class="l2" d="M20 213L56.5 225L93 225L129.5 211L166 185"/>
<path class="e2" d="M20 213m0-4v8M56.5 225m0-4v8M93 225m0-4v8M129.5 211m0-4v8M166 185m0-4v8"/>
<path class="p2" d="M20 213h0M56.5 225h0M93 225h0M129.5 211h0M166 185h0"/>
<path class="l3" d="M20 221L56.5 230L93 227L129.5 214L166 185"/>
<path class="e3" d="M20 221m0-4v8M56.5 230m0-4v8M93 227m0-4v8M129.5 214m0-4v8M166 185m0-4v8"/>
<path class="p3" d="M20 221h0M56.5 230h0M93 227h0M129.5 214h0M166 185h0"/>
<g transform="translate(20 222) scale(1 -.5217)"><text class="s" y="-16">*</text></g>
<g transform="translate(56.5 231) scale(1 -.5217)"><text class="s" y="-16">*</text></g>
<g transform="translate(93 231) scale(1 -.5217)"><text class="s" y="-16">*</text></g>
</g></g>

<!-- P21 OR (L) -->
<g transform="translate(98 0)">
<rect class="st" x="0" y="1001" width="189" height="41"/><text class="sx" x="94.5" y="1029">OR (L)</text>
<rect class="pn" x="0" y="1042" width="189" height="160"/>
<path class="tk" d="M-5 1080h5M-5 1119.3h5M-5 1158.7h5M-5 1198h5M20 1202v5M56.5 1202v5M93 1202v5M129.5 1202v5M166 1202v5"/>
<text class="yl" x="-8" y="1086.5">0.24</text><text class="yl" x="-8" y="1125.8">0.21</text><text class="yl" x="-8" y="1165.2">0.18</text><text class="yl" x="-8" y="1204.5">0.15</text>
<text class="xl" y="1230"><tspan x="20">1</tspan><tspan x="56.5">2</tspan><tspan x="93">3</tspan><tspan x="129.5">4</tspan><tspan x="166">5</tspan></text>
<g transform="translate(0 1198) scale(1 -1.311) translate(0 -150)">
<path class="l1" d="M20 222L56.5 228L93 227L129.5 212L166 172"/>
<path class="e1" d="M20 222m0-3v6M56.5 228m0-3v6M93 227m0-3v6M129.5 212m0-3v6M166 172m0-3v6"/>
<path class="p1" d="M20 222h0M56.5 228h0M93 227h0M129.5 212h0M166 172h0"/>
<path class="l2" d="M20 215L56.5 224L93 223L129.5 208L166 169"/>
<path class="e2" d="M20 215m0-4v8M56.5 224m0-4v8M93 223m0-4v8M129.5 208m0-4v8M166 169m0-4v8"/>
<path class="p2" d="M20 215h0M56.5 224h0M93 223h0M129.5 208h0M166 169h0"/>
<path class="l3" d="M20 220L56.5 226L93 220L129.5 204L166 166"/>
<path class="e3" d="M20 220m0-4v8M56.5 226m0-4v8M93 220m0-4v8M129.5 204m0-4v8M166 166m0-4v8"/>
<path class="p3" d="M20 220h0M56.5 226h0M93 220h0M129.5 204h0M166 166h0"/>
<g transform="translate(20 222) scale(1 -.7628)"><text class="s" y="-12">**</text></g>
<g transform="translate(56.5 228) scale(1 -.7628)"><text class="h" y="-10">#</text><text class="s" y="-22">*</text></g>
<g transform="translate(93 227) scale(1 -.7628)"><text class="h" y="-10">##</text><text class="s" y="-22">*</text></g>
<g transform="translate(129.5 212) scale(1 -.7628)"><text class="h" y="-10">##</text></g>
</g></g>

<!-- P22 OR (R) -->
<g transform="translate(372 0)">
<rect class="st" x="0" y="1001" width="189" height="41"/><text class="sx" x="94.5" y="1029">OR (R)</text>
<rect class="pn" x="0" y="1042" width="189" height="160"/>
<path class="tk" d="M-5 1050h5M-5 1087.25h5M-5 1124.5h5M-5 1161.75h5M-5 1199h5M20 1202v5M56.5 1202v5M93 1202v5M129.5 1202v5M166 1202v5"/>
<text class="yl" x="-8" y="1056.5">0.250</text><text class="yl" x="-8" y="1093.75">0.225</text><text class="yl" x="-8" y="1131">0.200</text><text class="yl" x="-8" y="1168.25">0.175</text><text class="yl" x="-8" y="1205.5">0.150</text>
<text class="xl" y="1230"><tspan x="20">1</tspan><tspan x="56.5">2</tspan><tspan x="93">3</tspan><tspan x="129.5">4</tspan><tspan x="166">5</tspan></text>
<g transform="translate(0 1199) scale(1 -1.49) translate(0 -150)">
<path class="l1" d="M20 219L56.5 226L93 226L129.5 206L166 170"/>
<path class="e1" d="M20 219m0-3v6M56.5 226m0-3v6M93 226m0-3v6M129.5 206m0-3v6M166 170m0-3v6"/>
<path class="p1" d="M20 219h0M56.5 226h0M93 226h0M129.5 206h0M166 170h0"/>
<path class="l2" d="M20 215L56.5 224L93 224L129.5 203L166 172"/>
<path class="e2" d="M20 215m0-4v8M56.5 224m0-4v8M93 224m0-4v8M129.5 203m0-4v8M166 172m0-4v8"/>
<path class="p2" d="M20 215h0M56.5 224h0M93 224h0M129.5 203h0M166 172h0"/>
<path class="l3" d="M20 219L56.5 223L93 220L129.5 200L166 163"/>
<path class="e3" d="M20 219m0-4v8M56.5 223m0-4v8M93 220m0-4v8M129.5 200m0-4v8M166 163m0-4v8"/>
<path class="p3" d="M20 219h0M56.5 223h0M93 220h0M129.5 200h0M166 163h0"/>
<g transform="translate(20 219) scale(1 -.6711)"><text class="s" y="-12">*</text></g>
<g transform="translate(93 226) scale(1 -.6711)"><text class="h" y="-10">#</text></g>
</g></g>

<!-- P23 SLF I (L) -->
<g transform="translate(634 0)">
<rect class="st" x="0" y="1001" width="189" height="41"/><text class="sx" x="94.5" y="1029">SLF I (L)</text>
<rect class="pn" x="0" y="1042" width="189" height="160"/>
<path class="tk" d="M-5 1049h5M-5 1082h5M-5 1115h5M-5 1148h5M-5 1181h5M20 1202v5M56.5 1202v5M93 1202v5M129.5 1202v5M166 1202v5"/>
<text class="yl" x="-8" y="1055.5">0.24</text><text class="yl" x="-8" y="1088.5">0.23</text><text class="yl" x="-8" y="1121.5">0.22</text><text class="yl" x="-8" y="1154.5">0.21</text><text class="yl" x="-8" y="1187.5">0.20</text>
<text class="xl" y="1230"><tspan x="20">1</tspan><tspan x="56.5">2</tspan><tspan x="93">3</tspan><tspan x="129.5">4</tspan><tspan x="166">5</tspan></text>
<g transform="translate(0 1181) scale(1 -3.3) translate(0 -200)">
<path class="l1" d="M20 210L56.5 212.5L93 220L129.5 224.5L166 223"/>
<path class="e1" d="M20 210m0-2.7v5.4M56.5 212.5m0-2.7v5.4M93 220m0-2.7v5.4M129.5 224.5m0-2.7v5.4M166 223m0-2.7v5.4"/>
<path class="p1" d="M20 210h0M56.5 212.5h0M93 220h0M129.5 224.5h0M166 223h0"/>
<path class="l2" d="M20 202.5L56.5 204.5L93 211L129.5 213L166 211.5"/>
<path class="e2" d="M20 202.5m0-2.7v5.4M56.5 204.5m0-2.7v5.4M93 211m0-2.7v5.4M129.5 213m0-2.7v5.4M166 211.5m0-2.7v5.4"/>
<path class="p2" d="M20 202.5h0M56.5 204.5h0M93 211h0M129.5 213h0M166 211.5h0"/>
<path class="l3" d="M20 204L56.5 204L93 214.5L129.5 218L166 216.5"/>
<path class="e3" d="M20 204m0-2.7v5.4M56.5 204m0-2.7v5.4M93 214.5m0-2.7v5.4M129.5 218m0-2.7v5.4M166 216.5m0-2.7v5.4"/>
<path class="p3" d="M20 204h0M56.5 204h0M93 214.5h0M129.5 218h0M166 216.5h0"/>
<g transform="translate(20 210) scale(1 -.303)"><text class="s" y="-18">*</text></g>
<g transform="translate(56.5 212.5) scale(1 -.303)"><text class="s" y="-18">*</text></g>
<g transform="translate(93 220) scale(1 -.303)"><text class="h" y="-12">#</text><text class="s" y="-24">**</text></g>
<g transform="translate(129.5 224.5) scale(1 -.303)"><text class="h" y="-12">#</text><text class="s" y="-24">**</text></g>
<g transform="translate(166 223) scale(1 -.303)"><text class="h" y="-12">#</text><text class="s" y="-24">***</text></g>
</g></g>

<!-- P24 SLF I (R) -->
<g transform="translate(908 0)">
<rect class="st" x="0" y="1001" width="189" height="41"/><text class="sx" x="94.5" y="1029">SLF I (R)</text>
<rect class="pn" x="0" y="1042" width="189" height="160"/>
<path class="tk" d="M-5 1070h5M-5 1105.7h5M-5 1141.3h5M-5 1177h5M20 1202v5M56.5 1202v5M93 1202v5M129.5 1202v5M166 1202v5"/>
<text class="yl" x="-8" y="1076.5">0.23</text><text class="yl" x="-8" y="1112.2">0.22</text><text class="yl" x="-8" y="1147.8">0.21</text><text class="yl" x="-8" y="1183.5">0.20</text>
<text class="xl" y="1230"><tspan x="20">1</tspan><tspan x="56.5">2</tspan><tspan x="93">3</tspan><tspan x="129.5">4</tspan><tspan x="166">5</tspan></text>
<g transform="translate(0 1177) scale(1 -3.567) translate(0 -200)">
<path class="l1" d="M20 207L56.5 212L93 217.5L129.5 221.5L166 221.5"/>
<path class="e1" d="M20 207m0-2.5v5M56.5 212m0-2.5v5M93 217.5m0-2.5v5M129.5 221.5m0-2.5v5M166 221.5m0-2.5v5"/>
<path class="p1" d="M20 207h0M56.5 212h0M93 217.5h0M129.5 221.5h0M166 221.5h0"/>
<path class="l2" d="M20 201L56.5 207.5L93 210.5L129.5 214.5L166 213"/>
<path class="e2" d="M20 201m0-2.5v5M56.5 207.5m0-2.5v5M93 210.5m0-2.5v5M129.5 214.5m0-2.5v5M166 213m0-2.5v5"/>
<path class="p2" d="M20 201h0M56.5 207.5h0M93 210.5h0M129.5 214.5h0M166 213h0"/>
<path class="l3" d="M20 206L56.5 209.5L93 209.5L129.5 213L166 215.5"/>
<path class="e3" d="M20 206m0-2.5v5M56.5 209.5m0-2.5v5M93 209.5m0-2.5v5M129.5 213m0-2.5v5M166 215.5m0-2.5v5"/>
<path class="p3" d="M20 206h0M56.5 209.5h0M93 209.5h0M129.5 213h0M166 215.5h0"/>
<g transform="translate(20 207) scale(1 -.2804)"><text class="s" y="-18">*</text></g>
<g transform="translate(93 217.5) scale(1 -.2804)"><text class="h" y="-12">#</text></g>
<g transform="translate(129.5 221.5) scale(1 -.2804)"><text class="h" y="-12">#</text><text class="s" y="-24">*</text></g>
<g transform="translate(166 221.5) scale(1 -.2804)"><text class="h" y="-12">#</text><text class="s" y="-24">**</text></g>
</g></g>

<!-- P25 SLF II (L) -->
<g transform="translate(1182 0)">
<rect class="st" x="0" y="1001" width="189" height="41"/><text class="sx" x="94.5" y="1029">SLF II (L)</text>
<rect class="pn" x="0" y="1042" width="189" height="160"/>
<path class="tk" d="M-5 1069h5M-5 1108.3h5M-5 1147.7h5M-5 1187h5M20 1202v5M56.5 1202v5M93 1202v5M129.5 1202v5M166 1202v5"/>
<text class="yl" x="-8" y="1075.5">0.23</text><text class="yl" x="-8" y="1114.8">0.22</text><text class="yl" x="-8" y="1154.2">0.21</text><text class="yl" x="-8" y="1193.5">0.20</text>
<text class="xl" y="1230"><tspan x="20">1</tspan><tspan x="56.5">2</tspan><tspan x="93">3</tspan><tspan x="129.5">4</tspan><tspan x="166">5</tspan></text>
<g transform="translate(0 1187) scale(1 -3.933) translate(0 -200)">
<path class="l1" d="M20 215.5L56.5 212L93 217L129.5 221L166 223"/>
<path class="e1" d="M20 215.5m0-2.5v5M56.5 212m0-2.5v5M93 217m0-2.5v5M129.5 221m0-2v4M166 223m0-2v4"/>
<path class="p1" d="M20 215.5h0M56.5 212h0M93 217h0M129.5 221h0M166 223h0"/>
<path class="l2" d="M20 208.5L56.5 203.5L93 206.5L129.5 209.5L166 212"/>
<path class="e2" d="M20 208.5m0-2.3v4.6M56.5 203.5m0-2.3v4.6M93 206.5m0-2.3v4.6M129.5 209.5m0-2.3v4.6M166 212m0-2.3v4.6"/>
<path class="p2" d="M20 208.5h0M56.5 203.5h0M93 206.5h0M129.5 209.5h0M166 212h0"/>
<path class="l3" d="M20 208L56.5 204L93 206.5L129.5 213L166 219.5"/>
<path class="e3" d="M20 208m0-2.3v4.6M56.5 204m0-2.3v4.6M93 206.5m0-2.3v4.6M129.5 213m0-2.3v4.6M166 219.5m0-2.3v4.6"/>
<path class="p3" d="M20 208h0M56.5 204h0M93 206.5h0M129.5 213h0M166 219.5h0"/>
<g transform="translate(20 215.5) scale(1 -.2543)"><text class="h" y="-12">#</text><text class="s" y="-24">*</text></g>
<g transform="translate(56.5 212) scale(1 -.2543)"><text class="h" y="-12">#</text><text class="s" y="-24">*</text></g>
<g transform="translate(93 217) scale(1 -.2543)"><text class="h" y="-12">#</text><text class="s" y="-24">**</text></g>
<g transform="translate(129.5 221) scale(1 -.2543)"><text class="h" y="-12">##</text><text class="s" y="-24">***</text></g>
<g transform="translate(166 223) scale(1 -.2543)"><text class="s" y="-20">***</text></g>
</g></g>

<!-- P26 SLF II (R) -->
<g transform="translate(98 0)">
<rect class="st" x="0" y="1250" width="189" height="41"/><text class="sx" x="94.5" y="1278">SLF II (R)</text>
<rect class="pn" x="0" y="1291" width="189" height="160"/>
<path class="tk" d="M-5 1303h5M-5 1351.5h5M-5 1400h5M20 1451v5M56.5 1451v5M93 1451v5M129.5 1451v5M166 1451v5"/>
<text class="yl" x="-8" y="1309.5">0.23</text><text class="yl" x="-8" y="1358">0.22</text><text class="yl" x="-8" y="1406.5">0.21</text>
<text class="xl" y="1479"><tspan x="20">1</tspan><tspan x="56.5">2</tspan><tspan x="93">3</tspan><tspan x="129.5">4</tspan><tspan x="166">5</tspan></text>
<g transform="translate(0 1400) scale(1 -4.85) translate(0 -210)">
<path class="l1" d="M20 213L56.5 216.5L93 217L129.5 220L166 219"/>
<path class="e1" d="M20 213m0-2.2v4.4M56.5 216.5m0-2.5v5M93 217m0-3v6M129.5 220m0-2.2v4.4M166 219m0-3v6"/>
<path class="p1" d="M20 213h0M56.5 216.5h0M93 217h0M129.5 220h0M166 219h0"/>
<path class="l2" d="M20 208.5L56.5 215L93 213.5L129.5 214L166 212.5"/>
<path class="e2" d="M20 208.5m0-2.2v4.4M56.5 215m0-2.2v4.4M93 213.5m0-2.2v4.4M129.5 214m0-2.2v4.4M166 212.5m0-2.2v4.4"/>
<path class="p2" d="M20 208.5h0M56.5 215h0M93 213.5h0M129.5 214h0M166 212.5h0"/>
<path class="l3" d="M20 206.5L56.5 209L93 210.5L129.5 213.5L166 216.5"/>
<path class="e3" d="M20 206.5m0-2.2v4.4M56.5 209m0-2.2v4.4M93 210.5m0-2.2v4.4M129.5 213.5m0-2.2v4.4M166 216.5m0-2.2v4.4"/>
<path class="p3" d="M20 206.5h0M56.5 209h0M93 210.5h0M129.5 213.5h0M166 216.5h0"/>
<g transform="translate(20 213) scale(1 -.2062)"><text class="h" y="-12">#</text></g>
<g transform="translate(56.5 216.5) scale(1 -.2062)"><text class="h" y="-12">#</text></g>
<g transform="translate(93 217) scale(1 -.2062)"><text class="h" y="-14">#</text></g>
<g transform="translate(129.5 220) scale(1 -.2062)"><text class="h" y="-12">#</text><text class="s" y="-24">*</text></g>
<g transform="translate(166 219) scale(1 -.2062)"><text class="s" y="-20">*</text></g>
</g></g>

<!-- P27 SLF III (L) -->
<g transform="translate(372 0)">
<rect class="st" x="0" y="1250" width="189" height="41"/><text class="sx" x="94.5" y="1278">SLF III (L)</text>
<rect class="pn" x="0" y="1291" width="189" height="160"/>
<path class="tk" d="M-5 1314h5M-5 1338.4h5M-5 1362.8h5M-5 1387.2h5M-5 1411.6h5M-5 1436h5M20 1451v5M56.5 1451v5M93 1451v5M129.5 1451v5M166 1451v5"/>
<text class="yl" x="-8" y="1320.5">0.24</text><text class="yl" x="-8" y="1344.9">0.23</text><text class="yl" x="-8" y="1369.3">0.22</text><text class="yl" x="-8" y="1393.7">0.21</text><text class="yl" x="-8" y="1418.1">0.20</text><text class="yl" x="-8" y="1442.5">0.19</text>
<text class="xl" y="1479"><tspan x="20">1</tspan><tspan x="56.5">2</tspan><tspan x="93">3</tspan><tspan x="129.5">4</tspan><tspan x="166">5</tspan></text>
<g transform="translate(0 1436) scale(1 -2.44) translate(0 -190)">
<path class="l1" d="M20 204.5L56.5 222L93 226.5L129.5 224L166 221"/>
<path class="e1" d="M20 204.5m0-3.7v7.4M56.5 222m0-3.7v7.4M93 226.5m0-3.7v7.4M129.5 224m0-3.7v7.4M166 221m0-3.7v7.4"/>
<path class="p1" d="M20 204.5h0M56.5 222h0M93 226.5h0M129.5 224h0M166 221h0"/>
<path class="l2" d="M20 194.5L56.5 212.5L93 219.5L129.5 216.5L166 212.5"/>
<path class="e2" d="M20 194.5m0-3.7v7.4M56.5 212.5m0-3.7v7.4M93 219.5m0-3.7v7.4M129.5 216.5m0-3.7v7.4M166 212.5m0-3.7v7.4"/>
<path class="p2" d="M20 194.5h0M56.5 212.5h0M93 219.5h0M129.5 216.5h0M166 212.5h0"/>
<path class="l3" d="M20 194.5L56.5 211L93 214.5L129.5 216L166 219"/>
<path class="e3" d="M20 194.5m0-3.7v7.4M56.5 211m0-3.7v7.4M93 214.5m0-3.7v7.4M129.5 216m0-3.7v7.4M166 219m0-3.7v7.4"/>
<path class="p3" d="M20 194.5h0M56.5 211h0M93 214.5h0M129.5 216h0M166 219h0"/>
<g transform="translate(20 204.5) scale(1 -.4098)"><text class="h" y="-12">##</text><text class="s" y="-24">**</text></g>
<g transform="translate(56.5 222) scale(1 -.4098)"><text class="h" y="-12">##</text><text class="s" y="-24">**</text></g>
<g transform="translate(93 226.5) scale(1 -.4098)"><text class="h" y="-12">##</text><text class="s" y="-24">*</text></g>
<g transform="translate(129.5 224) scale(1 -.4098)"><text class="h" y="-12">#</text><text class="s" y="-24">**</text></g>
<g transform="translate(166 221) scale(1 -.4098)"><text class="s" y="-20">**</text></g>
</g></g>

<!-- P28 SLF III (R) -->
<g transform="translate(634 0)">
<rect class="st" x="0" y="1250" width="189" height="41"/><text class="sx" x="94.5" y="1278">SLF III (R)</text>
<rect class="pn" x="0" y="1291" width="189" height="160"/>
<path class="tk" d="M-5 1317h5M-5 1344.75h5M-5 1372.5h5M-5 1400.25h5M-5 1428h5M20 1451v5M56.5 1451v5M93 1451v5M129.5 1451v5M166 1451v5"/>
<text class="yl" x="-8" y="1323.5">0.24</text><text class="yl" x="-8" y="1351.25">0.23</text><text class="yl" x="-8" y="1379">0.22</text><text class="yl" x="-8" y="1406.75">0.21</text><text class="yl" x="-8" y="1434.5">0.20</text>
<text class="xl" y="1479"><tspan x="20">1</tspan><tspan x="56.5">2</tspan><tspan x="93">3</tspan><tspan x="129.5">4</tspan><tspan x="166">5</tspan></text>
<g transform="translate(0 1428) scale(1 -2.775) translate(0 -200)">
<path class="l1" d="M20 209L56.5 225.5L93 232.5L129.5 233L166 228.5"/>
<path class="e1" d="M20 209m0-3.2v6.4M56.5 225.5m0-3.2v6.4M93 232.5m0-3.2v6.4M129.5 233m0-3.2v6.4M166 228.5m0-3.2v6.4"/>
<path class="p1" d="M20 209h0M56.5 225.5h0M93 232.5h0M129.5 233h0M166 228.5h0"/>
<path class="l2" d="M20 203.5L56.5 224.5L93 231L129.5 228L166 221"/>
<path class="e2" d="M20 203.5m0-3.2v6.4M56.5 224.5m0-3.2v6.4M93 231m0-3.2v6.4M129.5 228m0-3.2v6.4M166 221m0-3.2v6.4"/>
<path class="p2" d="M20 203.5h0M56.5 224.5h0M93 231h0M129.5 228h0M166 221h0"/>
<path class="l3" d="M20 201L56.5 217.5L93 227.5L129.5 227L166 226.5"/>
<path class="e3" d="M20 201m0-3.2v6.4M56.5 217.5m0-3.2v6.4M93 227.5m0-3.2v6.4M129.5 227m0-3.2v6.4M166 226.5m0-3.2v6.4"/>
<path class="p3" d="M20 201h0M56.5 217.5h0M93 227.5h0M129.5 227h0M166 226.5h0"/>
<g transform="translate(20 209) scale(1 -.3604)"><text class="h" y="-12">#</text></g>
<g transform="translate(56.5 225.5) scale(1 -.3604)"><text class="h" y="-12">#</text></g>
<g transform="translate(129.5 233) scale(1 -.3604)"><text class="s" y="-20">*</text></g>
<g transform="translate(166 228.5) scale(1 -.3604)"><text class="s" y="-20">**</text></g>
</g></g>

<!-- P29 UF (L) -->
<g transform="translate(908 0)">
<rect class="st" x="0" y="1250" width="189" height="41"/><text class="sx" x="94.5" y="1278">UF (L)</text>
<rect class="pn" x="0" y="1291" width="189" height="160"/>
<path class="tk" d="M-5 1309h5M-5 1345.7h5M-5 1382.3h5M-5 1419h5M20 1451v5M56.5 1451v5M93 1451v5M129.5 1451v5M166 1451v5"/>
<text class="yl" x="-8" y="1315.5">0.225</text><text class="yl" x="-8" y="1352.2">0.200</text><text class="yl" x="-8" y="1388.8">0.175</text><text class="yl" x="-8" y="1425.5">0.150</text>
<text class="xl" y="1479"><tspan x="20">1</tspan><tspan x="56.5">2</tspan><tspan x="93">3</tspan><tspan x="129.5">4</tspan><tspan x="166">5</tspan></text>
<g transform="translate(0 1419) scale(1 -1.467) translate(0 -150)">
<path class="l1" d="M20 188L56.5 172L93 170L129.5 185L166 213"/>
<path class="e1" d="M20 188m0-4v8M56.5 172m0-4v8M93 170m0-4v8M129.5 185m0-4v8M166 213m0-4v8"/>
<path class="p1" d="M20 188h0M56.5 172h0M93 170h0M129.5 185h0M166 213h0"/>
<path class="l2" d="M20 178L56.5 163L93 161L129.5 175L166 210"/>
<path class="e2" d="M20 178m0-5v10M56.5 163m0-5v10M93 161m0-5v10M129.5 175m0-5v10M166 210m0-5v10"/>
<path class="p2" d="M20 178h0M56.5 163h0M93 161h0M129.5 175h0M166 210h0"/>
<path class="l3" d="M20 187L56.5 149L93 146L129.5 177L166 212"/>
<path class="e3" d="M20 187m0-5v10M56.5 149m0-6v12M93 146m0-6v12M129.5 177m0-5v10M166 212m0-5v10"/>
<path class="p3" d="M20 187h0M56.5 149h0M93 146h0M129.5 177h0M166 212h0"/>
<g transform="translate(20 188) scale(1 -.6817)"><text class="s" y="-14">**</text></g>
<g transform="translate(56.5 172) scale(1 -.6817)"><text class="h" y="-10">###</text></g>
<g transform="translate(93 170) scale(1 -.6817)"><text class="h" y="-10">###</text><text class="s" y="-22">*</text></g>
<g transform="translate(129.5 185) scale(1 -.6817)"><text class="h" y="-10">#</text><text class="s" y="-22">**</text></g>
</g></g>

<!-- P30 UF (R) -->
<g transform="translate(1182 0)">
<rect class="st" x="0" y="1250" width="189" height="41"/><text class="sx" x="94.5" y="1278">UF (R)</text>
<rect class="pn" x="0" y="1291" width="189" height="160"/>
<path class="tk" d="M-5 1325h5M-5 1358h5M-5 1391h5M-5 1424h5M20 1451v5M56.5 1451v5M93 1451v5M129.5 1451v5M166 1451v5"/>
<text class="yl" x="-8" y="1331.5">0.225</text><text class="yl" x="-8" y="1364.5">0.200</text><text class="yl" x="-8" y="1397.5">0.175</text><text class="yl" x="-8" y="1430.5">0.150</text>
<text class="xl" y="1479"><tspan x="20">1</tspan><tspan x="56.5">2</tspan><tspan x="93">3</tspan><tspan x="129.5">4</tspan><tspan x="166">5</tspan></text>
<g transform="translate(0 1424) scale(1 -1.32) translate(0 -150)">
<path class="l1" d="M20 191L56.5 166L93 168L129.5 183L166 219"/>
<path class="e1" d="M20 191m0-4v8M56.5 166m0-4v8M93 168m0-4v8M129.5 183m0-4v8M166 219m0-4v8"/>
<path class="p1" d="M20 191h0M56.5 166h0M93 168h0M129.5 183h0M166 219h0"/>
<path class="l2" d="M20 178L56.5 158L93 159L129.5 171L166 211"/>
<path class="e2" d="M20 178m0-5v10M56.5 158m0-5v10M93 159m0-5v10M129.5 171m0-5v10M166 211m0-5v10"/>
<path class="p2" d="M20 178h0M56.5 158h0M93 159h0M129.5 171h0M166 211h0"/>
<path class="l3" d="M20 187L56.5 148L93 149L129.5 176L166 219"/>
<path class="e3" d="M20 187m0-5v10M56.5 148m0-6v12M93 149m0-6v12M129.5 176m0-5v10M166 219m0-5v10"/>
<path class="p3" d="M20 187h0M56.5 148h0M93 149h0M129.5 176h0M166 219h0"/>
<g transform="translate(20 191) scale(1 -.7576)"><text class="s" y="-14">**</text></g>
<g transform="translate(56.5 166) scale(1 -.7576)"><text class="h" y="-10">##</text></g>
<g transform="translate(93 168) scale(1 -.7576)"><text class="h" y="-10">##</text><text class="s" y="-22">*</text></g>
<g transform="translate(129.5 183) scale(1 -.7576)"><text class="h" y="-10">#</text><text class="s" y="-22">**</text></g>
<g transform="translate(166 219) scale(1 -.7576)"><text class="s" y="-14">**</text></g>
</g></g>

<!-- axis titles -->
<text x="0" y="0" transform="translate(24 760) rotate(-90)" style="font-size:24px;font-weight:bold;text-anchor:middle;fill:#000">MWF</text>
<text x="734" y="1512" style="font-size:26px;font-weight:bold;text-anchor:middle;fill:#000">Segment</text>

<!-- legend -->
<text x="514" y="1557" style="font-size:27px;font-weight:bold;fill:#000">Group</text>
<path d="M618 1546H662" stroke="#666" stroke-width="3" fill="none"/>
<circle cx="640" cy="1546" r="6" fill="#666"/>
<text x="674" y="1555" style="font-size:22px;fill:#1a1a1a">CTL</text>
<path d="M737 1546H782" stroke="#3399ee" stroke-width="3" stroke-dasharray="3 5" fill="none"/>
<rect x="754" y="1540" width="12" height="12" fill="#3399ee"/>
<text x="797" y="1555" style="font-size:22px;fill:#1a1a1a">CHD</text>
<path d="M858 1546H903" stroke="#f7941d" stroke-width="3" stroke-dasharray="9 6" fill="none"/>
<path d="M880 1540l6 6l-6 6l-6-6z" fill="#f7941d"/>
<text x="922" y="1555" style="font-size:22px;fill:#1a1a1a">PT</text>
</svg>
</body></html>
